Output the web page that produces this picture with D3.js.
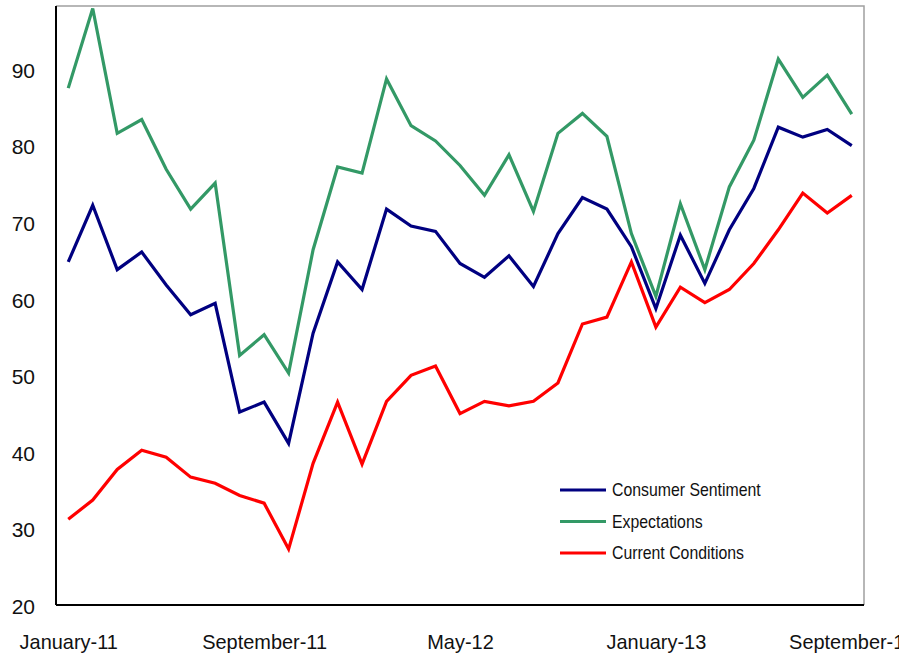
<!DOCTYPE html>
<html>
<head>
<meta charset="utf-8">
<script src="https://cdn.jsdelivr.net/npm/d3@7"></script>
<style>
  body { margin: 0; background: #fff; }
  svg { display: block; }
  text { font-family: "Liberation Sans", Arial, sans-serif; fill: #111; }
</style>
</head>
<body>
<div id="chart"></div>
<script>
// months, January 2011 .. September 2013
const months = [
    "January-11", "February-11", "March-11", "April-11", "May-11", "June-11",
    "July-11", "August-11", "September-11", "October-11", "November-11", "December-11",
    "January-12", "February-12", "March-12", "April-12", "May-12", "June-12",
    "July-12", "August-12", "September-12", "October-12", "November-12", "December-12",
    "January-13", "February-13", "March-13", "April-13", "May-13", "June-13",
    "July-13", "August-13", "September-13"
];
const tickLabels = ["January-11", "September-11", "May-12", "January-13", "September-13"];
const yTicks = [20, 30, 40, 50, 60, 70, 80, 90];

const consumerSentiment = [
    64.8, 72.2, 63.8, 66.1, 61.8, 57.9, 59.4, 45.2, 46.5, 41.1, 55.5,
    64.8, 61.2, 71.7, 69.5, 68.8, 64.6, 62.8, 65.6, 61.6, 68.5, 73.2,
    71.7, 66.8, 58.7, 68.3, 62.0, 69.0, 74.4, 82.4, 81.1, 82.1, 80.0
];
const expectations = [
    87.5, 97.9, 81.6, 83.4, 76.9, 71.7, 75.1, 52.6, 55.3, 50.3, 66.4,
    77.2, 76.4, 88.7, 82.6, 80.6, 77.4, 73.5, 78.8, 71.4, 81.6, 84.2,
    81.2, 68.5, 60.3, 72.4, 63.8, 74.6, 80.7, 91.3, 86.3, 89.2, 84.1
];
const currentConditions = [
    31.2, 33.7, 37.7, 40.2, 39.3, 36.7, 35.9, 34.3, 33.3, 27.3, 38.5,
    46.5, 38.4, 46.6, 50.0, 51.2, 45.0, 46.6, 46.0, 46.6, 49.0, 56.7,
    57.6, 64.8, 56.3, 61.5, 59.5, 61.2, 64.6, 69.0, 73.8, 71.2, 73.5
];

const series = [
    { name: "Consumer Sentiment", values: consumerSentiment, color: "#000080" },
    { name: "Expectations", values: expectations, color: "#339966" },
    { name: "Current Conditions", values: currentConditions, color: "#ff0000" }
];

const W = 899, H = 656;
const plot = { left: 56, right: 864, top: 6, bottom: 605 };

const svg = d3.select("#chart").append("svg")
    .attr("width", W)
    .attr("height", H);

const x = d3.scalePoint()
    .domain(months)
    .range([plot.left, plot.right])
    .padding(0.5);

const y = d3.scaleLinear()
    .domain([20, 90])
    .range([plot.bottom, 69]);

// frame: grey top and right, black axes
svg.append("path")
    .attr("d", `M${plot.left},${plot.top}H${plot.right}V${plot.bottom}`)
    .attr("fill", "none")
    .attr("stroke", "#a0a0a0")
    .attr("stroke-width", 1.5);

// Y axis
const yAxis = svg.append("g")
    .attr("transform", `translate(${plot.left},0)`)
    .call(d3.axisLeft(y).tickValues(yTicks).tickSize(0).tickPadding(21));
yAxis.select(".domain")
    .attr("d", `M0,${plot.top}V${plot.bottom}`)
    .attr("stroke", "#000")
    .attr("stroke-width", 2);
yAxis.selectAll("text")
    .style("font-size", "21px")
    .attr("dy", "0.4em");

// X axis
const xAxis = svg.append("g")
    .attr("transform", `translate(0,${plot.bottom})`)
    .call(d3.axisBottom(x).tickValues(tickLabels).tickSize(0).tickPadding(29));
xAxis.select(".domain")
    .attr("d", `M${plot.left},0H${plot.right}`)
    .attr("stroke", "#000")
    .attr("stroke-width", 2);
xAxis.selectAll("text")
    .style("font-size", "21px")
    .attr("transform", "scale(0.95,1)");

// lines
const line = d3.line()
    .x((d, i) => x(months[i]))
    .y(d => y(d));

svg.selectAll(".series")
    .data(series)
    .enter().append("path")
    .attr("class", "series")
    .attr("d", d => line(d.values))
    .attr("fill", "none")
    .attr("stroke", d => d.color)
    .attr("stroke-width", 3.2)
    .attr("stroke-linejoin", "miter");

// legend
const legend = svg.append("g")
    .attr("transform", "translate(560,490)");
const items = legend.selectAll("g")
    .data(series)
    .enter().append("g")
    .attr("transform", (d, i) => `translate(0,${i * 31.5})`);
items.append("line")
    .attr("x1", 0).attr("x2", 46)
    .attr("stroke", d => d.color)
    .attr("stroke-width", 3.2);
items.append("text")
    .attr("transform", "translate(52,0) scale(0.88,1)")
    .attr("dy", "0.36em")
    .style("font-size", "18px")
    .text(d => d.name);
</script>
</body>
</html>
